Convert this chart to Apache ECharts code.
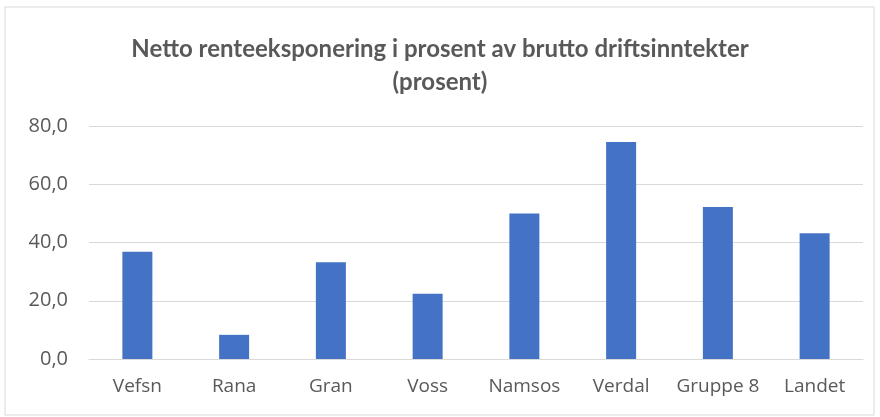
<!DOCTYPE html>
<html>
<head>
<meta charset="utf-8">
<script src="https://cdn.jsdelivr.net/npm/echarts@6/dist/echarts.min.js"></script>
<style>
  html, body { margin: 0; padding: 0; background: #fff; }
  #chart { width: 880px; height: 417px; }
</style>
</head>
<body>
<div id="chart"></div>
<script>
// data
const kommuner = ['Vefsn', 'Rana', 'Gran', 'Voss', 'Namsos', 'Verdal', 'Gruppe 8', 'Landet']
const renteeksponering = [36.8, 8.3, 33.2, 22.4, 50.0, 74.5, 52.2, 43.2]
const yTicks = [0, 20, 40, 60, 80]

let chart = echarts.init(document.getElementById('chart'))
let textColor = '#595959'
let labelFont = '"Open Sans", sans-serif'

let option = {
  animation: false,
  title: {
    text: 'Netto renteeksponering i prosent av brutto driftsinntekter\n(prosent)',
    left: 'center',
    top: 28,
    textStyle: {
      color: textColor,
      fontFamily: 'Lato, sans-serif',
      fontWeight: 'bold',
      fontSize: 24,
      lineHeight: 33
    }
  },
  graphic: [{
    type: 'rect',
    shape: { x: 5, y: 7, width: 869, height: 408 },
    style: { fill: 'none', stroke: '#d9d9d9', lineWidth: 1 }
  }],
  grid: {
    left: 89,
    right: 17,
    top: 126,
    bottom: 58
  },
  xAxis: {
    type: 'category',
    data: kommuner,
    axisTick: { show: false },
    axisLine: { lineStyle: { color: '#d9d9d9', width: 1 } },
    axisLabel: {
      interval: 0,
      hideOverlap: false,
      color: textColor,
      fontFamily: labelFont,
      fontSize: 19,
      margin: 18
    }
  },
  yAxis: {
    type: 'value',
    min: yTicks[0],
    max: yTicks[yTicks.length - 1],
    interval: 20,
    axisLine: { show: false },
    axisTick: { show: false },
    splitLine: { lineStyle: { color: '#d9d9d9', width: 1 } },
    axisLabel: {
      color: textColor,
      fontFamily: labelFont,
      fontSize: 20,
      margin: 21,
      formatter: function (v) { return v.toFixed(1).replace('.', ',') }
    }
  },
  series: [
    {
      type: 'bar',
      data: renteeksponering,
      barWidth: 30,
      itemStyle: { color: '#4472c4' }
    }
  ]
}
chart.setOption(option)
</script>
</body>
</html>
